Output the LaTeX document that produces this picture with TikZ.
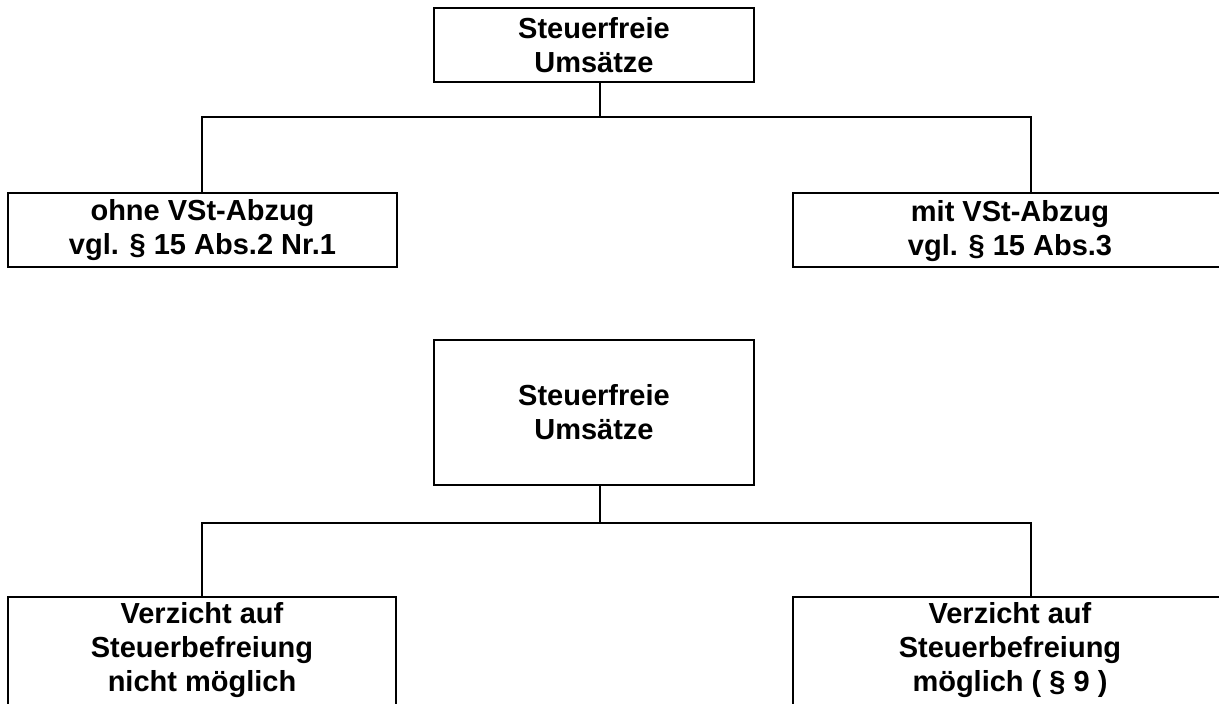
\documentclass[tikz,border=0pt]{standalone}
\usepackage{fontspec}
\setmainfont{Liberation Sans}
\begin{document}
\begin{tikzpicture}[x=1pt,y=-1pt,
  box/.style={draw, line width=2.2pt, inner sep=0pt, outer sep=0pt,
    font=\fontsize{29}{34}\selectfont\bfseries, align=center},
  lbl/.style={inner sep=0pt, outer sep=0pt,
    font=\fontsize{29}{34}\selectfont\bfseries, align=center},
  conn/.style={line width=2.2pt}]
\useasboundingbox (0,0) rectangle (1219,704);
\clip (0,0) rectangle (1219,704);
% --- upper diagram ---
\node[box, minimum width=320pt, minimum height=74pt] (top) at (594,45) {Steuerfreie\\Umsätze};
\node[box, minimum width=389pt, minimum height=74pt] (ohne) at (202.5,230) {ohne VSt-Abzug\\vgl. § 15 Abs.2 Nr.1};
\node[box, minimum width=460pt, minimum height=74pt] (mit) at (1023,230) {};
\node[lbl] (mittxt) at (1010,231) {mit VSt-Abzug\\vgl. § 15 Abs.3};
\coordinate (j1) at (600,117);
\coordinate (aL) at (202,117);
\coordinate (aR) at (1031,117);
\draw[conn] (top.south -| j1) -- (j1);
\draw[conn] (ohne.north -| aL) -- (aL) -- (aR) -- (mit.north -| aR);
% --- lower diagram ---
\node[box, minimum width=320pt, minimum height=145pt] (top2) at (594,412.5) {Steuerfreie\\Umsätze};
\node[box, minimum width=388pt, minimum height=163pt] (nicht) at (202,678.5) {};
\node[box, minimum width=460pt, minimum height=163pt] (moegl) at (1023,678.5) {};
\node[lbl, anchor=north] (nichttxt) at (202,602.5) {Verzicht auf\\Steuerbefreiung\\nicht möglich};
\node[lbl, anchor=north] (moegltxt) at (1010,602.5) {Verzicht auf\\Steuerbefreiung\\möglich ( § 9 )};
\coordinate (j2) at (600,523);
\coordinate (bL) at (202,523);
\coordinate (bR) at (1031,523);
\draw[conn] (top2.south -| j2) -- (j2);
\draw[conn] (nicht.north -| bL) -- (bL) -- (bR) -- (moegl.north -| bR);
\end{tikzpicture}
\end{document}
